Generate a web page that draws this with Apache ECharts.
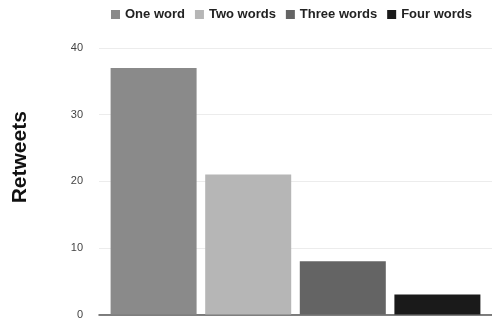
<!DOCTYPE html>
<html>
<head>
<meta charset="utf-8">
<script src="https://cdn.jsdelivr.net/npm/echarts@6/dist/echarts.min.js"></script>
<style>
  html, body { margin: 0; padding: 0; background: #fff; }
  #chart { width: 492px; height: 320px; }
</style>
</head>
<body>
<div id="chart"></div>
<script>
// Retweets by number of words
const seriesNames = ['One word', 'Two words', 'Three words', 'Four words'];
const retweets = [37, 21, 8, 3];
const barColors = ['#8a8a8a', '#b6b6b6', '#646464', '#1a1a1a'];
const yTicks = { min: 0, max: 40, interval: 10 };

const chart = echarts.init(document.getElementById('chart'));
chart.setOption({
  animation: false,
  legend: {
    top: 3,
    left: 106,
    itemWidth: 9,
    itemHeight: 9,
    itemGap: 10,
    icon: 'rect',
    textStyle: { fontFamily: 'Liberation Sans', fontWeight: 'bold', fontSize: 13, color: '#222' },
    data: seriesNames
  },
  grid: { left: 99, right: 0, top: 48, bottom: 5, containLabel: false },
  xAxis: {
    type: 'category',
    data: [''],
    axisTick: { show: false },
    axisLabel: { show: false },
    axisLine: { lineStyle: { color: '#555', width: 1.5 } }
  },
  yAxis: {
    type: 'value',
    min: yTicks.min,
    max: yTicks.max,
    interval: yTicks.interval,
    name: 'Retweets',
    nameLocation: 'middle',
    nameGap: 68,
    nameTextStyle: { fontFamily: 'Liberation Sans', fontWeight: 'bold', fontSize: 21, color: '#111', padding: [0, 0, 0, 48] },
    axisLabel: { fontFamily: 'Liberation Sans', fontSize: 11, color: '#444', margin: 16 },
    splitLine: { lineStyle: { color: '#ececec' } },
    axisLine: { show: false },
    axisTick: { show: false }
  },
  series: seriesNames.map((name, i) => ({
    name: name,
    type: 'bar',
    data: [retweets[i]],
    barWidth: 86,
    barGap: '10%',
    itemStyle: { color: barColors[i] }
  }))
});
</script>
</body>
</html>
